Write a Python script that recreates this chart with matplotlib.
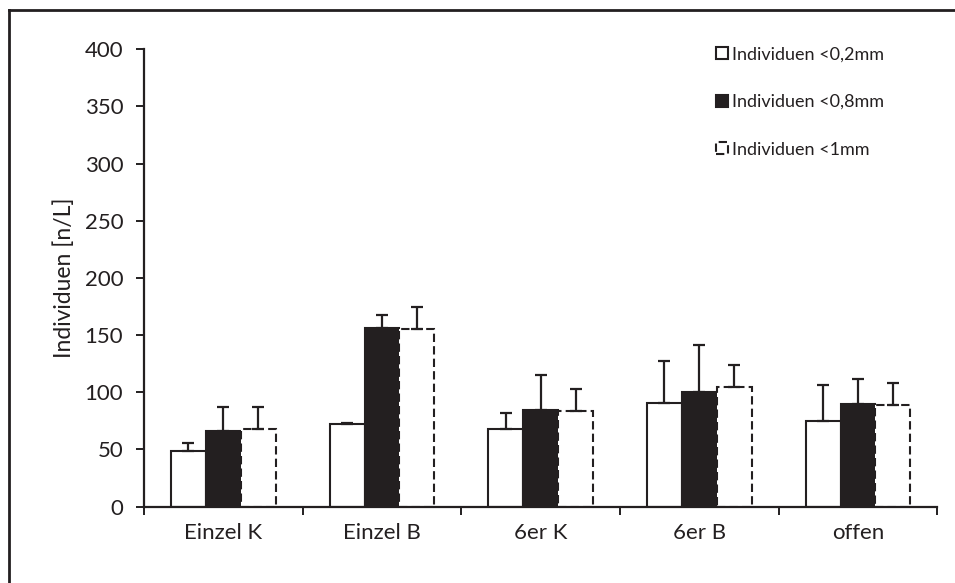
import matplotlib
matplotlib.use("Agg")
import matplotlib.pyplot as plt
from matplotlib.lines import Line2D
import numpy as np

plt.rcParams['font.family'] = ['Lato', 'DejaVu Sans']

# Gruppen und Mittelwerte
kategorien = ['Einzel K', 'Einzel B', '6er K', '6er B', 'offen']
serien = ['Individuen <0,2mm', 'Individuen <0,8mm', 'Individuen <1mm']

werte_02 = [48.8, 71.9, 67.8, 90.8, 75.1]
werte_08 = [66.3, 155.9, 84.4, 99.9, 89.4]
werte_1 = [68.1, 155.3, 83.8, 104.8, 88.8]

# Standardabweichung (nur nach oben)
fehler_02 = [7.0, 1.4, 14.3, 36.5, 31.2]
fehler_08 = [21.0, 11.9, 30.6, 41.7, 22.1]
fehler_1 = [19.2, 19.5, 19.0, 19.3, 19.5]

fig = plt.figure(figsize=(9.55, 5.83), dpi=100)
ax = fig.add_axes([0.1508, 0.1312, 0.8307, 0.7842])

x = np.arange(len(kategorien))
b = 0.22
dunkel = '#231f20'

stile = [
    dict(color='white', edgecolor=dunkel, linewidth=1.5),
    dict(color=dunkel, edgecolor=dunkel, linewidth=1.5),
    dict(color='white', edgecolor=dunkel, linewidth=1.5, linestyle=(0, (4, 2))),
]
daten = [(werte_02, fehler_02), (werte_08, fehler_08), (werte_1, fehler_1)]

handles = []
for i, ((w, f), st) in enumerate(zip(daten, stile)):
    pos = x + (i - 1) * b
    h = ax.bar(pos, w, b, zorder=2, **st)
    ax.errorbar(pos, w, yerr=[np.zeros(len(w)), f], fmt='none',
                ecolor=dunkel, elinewidth=1.6, capsize=4, capthick=1.6, zorder=3)
    handles.append(h)

ax.set_xlim(-0.5, 4.5)
ax.set_ylim(0, 400)
ax.set_yticks(np.arange(0, 401, 50))
ax.set_xticks(x)
ax.set_xticklabels(kategorien)
ax.set_xticks(np.arange(-0.5, 4.6, 1), minor=True)

for s in ['top', 'right']:
    ax.spines[s].set_visible(False)
for s in ['left', 'bottom']:
    ax.spines[s].set_linewidth(1.6)
    ax.spines[s].set_color(dunkel)

ax.tick_params(axis='y', direction='out', length=6, width=1.4, pad=9,
               labelsize=16, colors=dunkel)
ax.tick_params(axis='x', which='major', length=0, pad=12, labelsize=16,
               colors=dunkel)
ax.tick_params(axis='x', which='minor', direction='out', length=6, width=1.4,
               colors=dunkel)

ax.set_ylabel('Individuen [n/L]', fontsize=16.5, color=dunkel, labelpad=7)

leg = ax.legend(handles, serien, loc='upper right', bbox_to_anchor=(0.946, 1.03),
                frameon=False, fontsize=13, handlelength=0.65, handleheight=0.65,
                handletextpad=0.2, labelspacing=1.75, borderaxespad=0.2)
for t in leg.get_texts():
    t.set_color(dunkel)

# Rahmen oben und links
fig.add_artist(Line2D([9 / 955, 9 / 955], [0, 1 - 10 / 583], transform=fig.transFigure,
                      color=dunkel, linewidth=2))
fig.add_artist(Line2D([9 / 955, 1], [1 - 10 / 583, 1 - 10 / 583], transform=fig.transFigure,
                      color=dunkel, linewidth=2))

fig.savefig('out.png', dpi=100)
